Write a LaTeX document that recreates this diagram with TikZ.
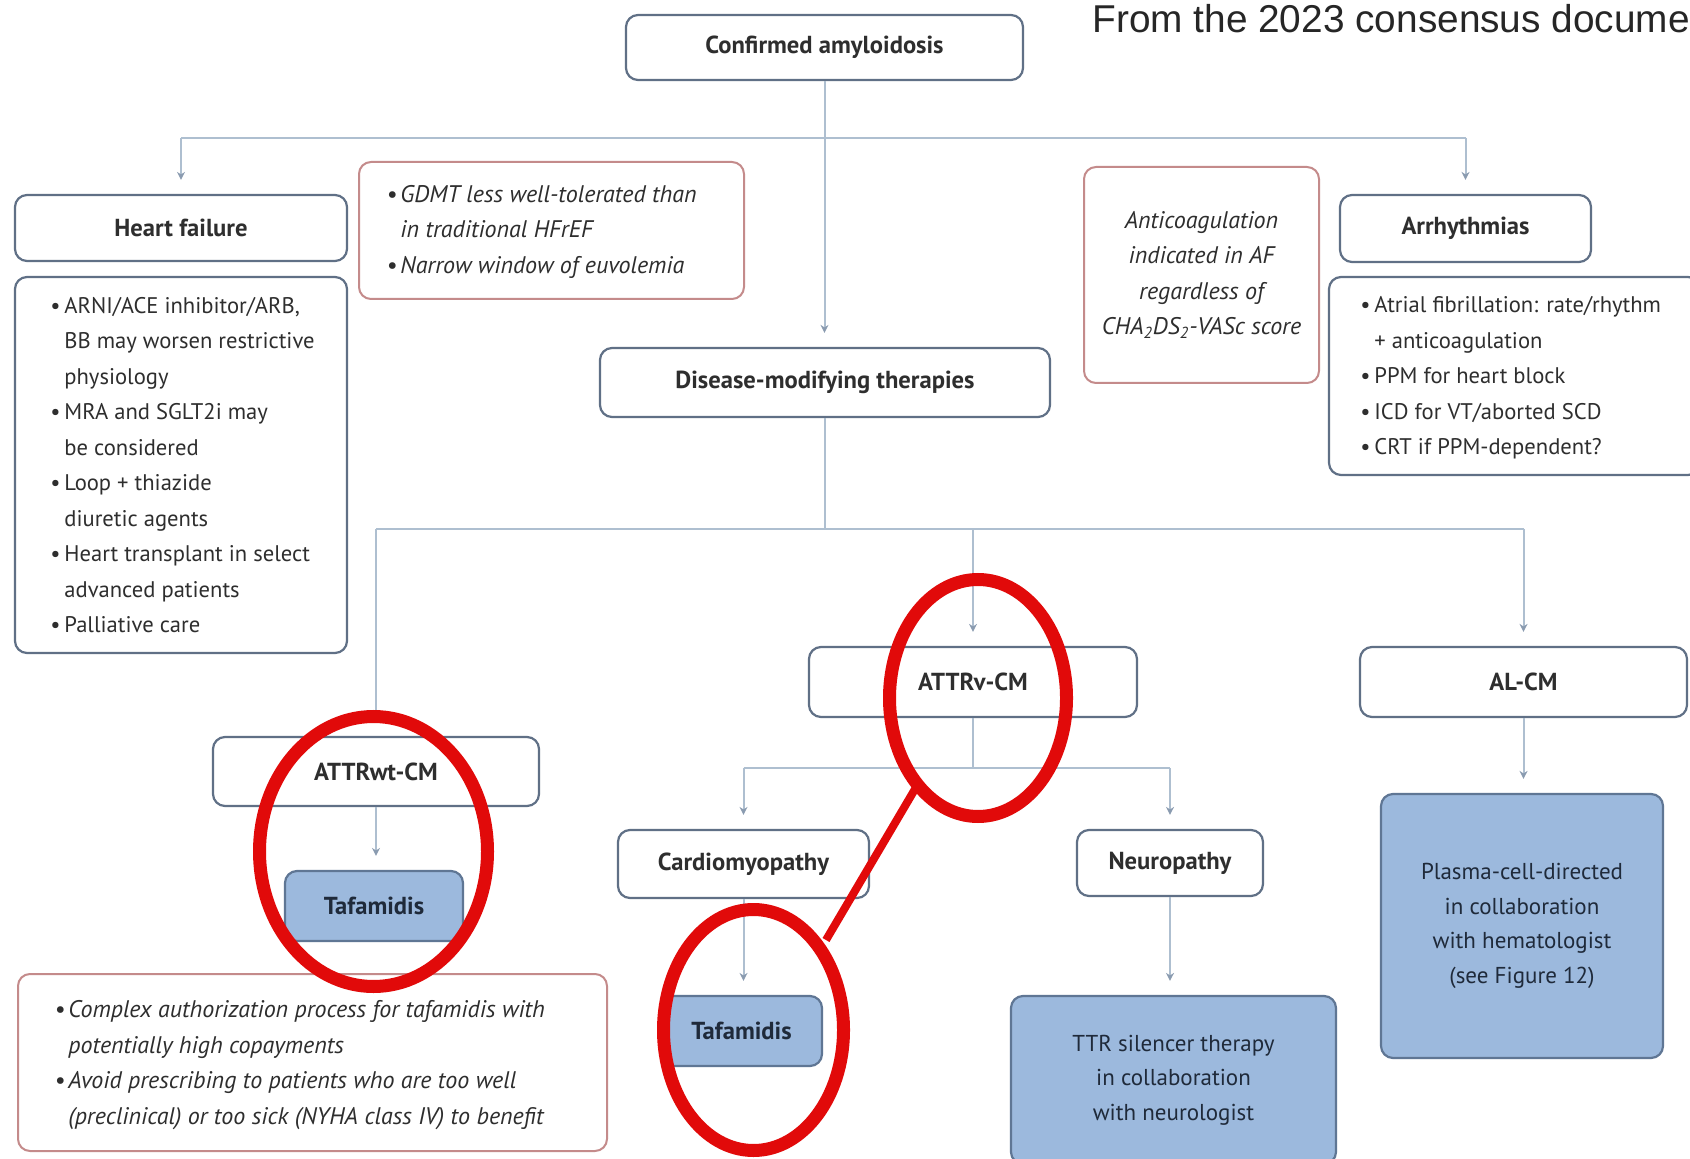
\documentclass[tikz,border=0pt]{standalone}
\usepackage{fontspec}
\setmainfont{PT Sans}
\newfontfamily\arialf{Liberation Sans}
\usetikzlibrary{arrows.meta}
\definecolor{boxc}{HTML}{607086}
\definecolor{linec}{HTML}{AEBFD0}
\definecolor{tipc}{HTML}{8A9BB0}
\definecolor{redb}{HTML}{C48B8B}
\definecolor{bluef}{HTML}{9CB9DD}
\definecolor{blueb}{HTML}{5F7694}
\definecolor{annred}{HTML}{E10A0A}
\definecolor{txt}{HTML}{2E2E2E}
\definecolor{navy}{HTML}{1F2A3A}
\newcommand\fs{\fontsize{11.3}{17.75}\selectfont}
\newcommand\fsc{\fontsize{11.5}{17.25}\selectfont}
\newcommand\fst{\fontsize{12.3}{17.75}\selectfont\bfseries}
\newcommand\fsi{\fontsize{12}{17.75}\selectfont\itshape}
\newcommand\bu{\makebox[7pt][l]{\textbullet}}
\newcommand\ind{\hspace*{7pt}}
\tikzset{
  box/.style={draw=boxc, line width=1.1pt, rounded corners=6pt, fill=white, inner sep=0pt, align=center, font=\fst, text=txt},
  plainbox/.style={draw=boxc, line width=1.1pt, rounded corners=6pt, fill=white, inner sep=0pt},
  redbox/.style={draw=redb, line width=1pt, rounded corners=6pt, fill=white, inner sep=0pt},
  bluebox/.style={draw=blueb, line width=1.1pt, rounded corners=6pt, fill=bluef, inner sep=0pt, align=center, font=\fst, text=navy},
  listtext/.style={anchor=west, align=left, inner sep=0pt, font=\fs, text=txt},
  conn/.style={draw=linec, line width=1pt},
  arrowline/.style={conn, -{Stealth[length=4pt,width=4pt,color=tipc]}, shorten >=7pt},
  redc/.style={draw=annred, line width=6.5pt},
}
\begin{document}
\begin{tikzpicture}[x=0.5pt,y=-0.5pt]
\useasboundingbox (0,0) rectangle (1690,1159);
\clip (0,0) rectangle (1690,1159);
\fill[white] (0,0) rectangle (1690,1159);

\node[anchor=base west, inner sep=0pt, font=\arialf\fontsize{19.4}{22}\selectfont, text=black!85] (src) at (1092,33) {From the 2023 consensus document};

% top level
\node[box, minimum width=198.5pt, minimum height=32.5pt] (conf) at (824.5,47.5) {Confirmed amyloidosis};
\node[box, minimum width=225pt, minimum height=34.5pt] (dmt) at (825,382.5) {Disease-modifying therapies};

% heart failure
\node[box, minimum width=166pt, minimum height=33pt] (hf) at (181,228) {Heart failure};
\node[plainbox, minimum width=166pt, minimum height=188pt] (hfbox) at (181,465) {};
\node[listtext] (hftext) at (50,465) {\bu ARNI/ACE inhibitor/ARB,\\ \ind BB may worsen restrictive\\ \ind physiology\\ \bu MRA and SGLT2i may\\ \ind be considered\\ \bu Loop + thiazide\\ \ind diuretic agents\\ \bu Heart transplant in select\\ \ind advanced patients\\ \bu Palliative care};

\node[redbox, minimum width=192.5pt, minimum height=68.5pt] (gdmtbox) at (551.5,230.5) {};
\node[listtext, font=\fsi] (gdmt) at (386,231.5) {\bu GDMT less well-tolerated than\\ \ind in traditional HFrEF\\ \bu Narrow window of euvolemia};

% arrhythmias
\node[redbox, minimum width=117.5pt, minimum height=108pt, align=center, font=\fsi, text=txt] (antic) at (1201.5,275) {Anticoagulation\\ indicated in AF\\ regardless of\\ CHA\textsubscript{2}DS\textsubscript{2}-VASc score};
\node[box, minimum width=125.5pt, minimum height=33.5pt] (arr) at (1465.5,228.5) {Arrhythmias};
\node[plainbox, minimum width=185.5pt, minimum height=99pt] (arrbox) at (1514.5,376) {};
\node[listtext] (arrtext) at (1360,378) {\bu Atrial fibrillation: rate/rhythm\\ \ind + anticoagulation\\ \bu PPM for heart block\\ \bu ICD for VT/aborted SCD\\ \bu CRT if PPM-dependent?};

% disease types
\node[box, minimum width=164pt, minimum height=35pt] (attrv) at (973,682) {ATTRv-CM};
\node[box, minimum width=163.5pt, minimum height=35pt] (alcm) at (1523.5,682) {AL-CM};
\node[box, minimum width=163pt, minimum height=34.5pt] (attrwt) at (376,771.5) {ATTRwt-CM};
\node[bluebox, minimum width=89pt, minimum height=35pt] (taf1) at (374,906) {Tafamidis};
\node[redbox, minimum width=294.5pt, minimum height=88.5pt] (warnbox) at (312.5,1062.5) {};
\node[listtext, font=\fsi] (warn) at (54,1065) {\bu Complex authorization process for tafamidis with\\ \ind potentially high copayments\\ \bu Avoid prescribing to patients who are too well\\ \ind (preclinical) or too sick (NYHA class IV) to benefit};
\node[box, minimum width=125.5pt, minimum height=34pt] (cardio) at (743.5,864) {Cardiomyopathy};
\node[box, minimum width=93pt, minimum height=33pt] (neuro) at (1170,863) {Neuropathy};
\node[bluebox, minimum width=80.5pt, minimum height=35pt] (taf2) at (741.5,1031) {Tafamidis};
\node[bluebox, font=\fsc, minimum width=162.5pt, minimum height=84pt] (ttr) at (1173.5,1080) {TTR silencer therapy\\ in collaboration\\ with neurologist};
\node[bluebox, font=\fsc, minimum width=141pt, minimum height=132pt] (plasma) at (1522,926) {Plasma-cell-directed\\ in collaboration\\ with hematologist\\ (see Figure 12)};

% connectors
\coordinate (hbar) at (824.5,138);
\draw[conn] (hf.north |- hbar) -- (arr.north |- hbar);
\draw[conn] (conf.south) -- (hbar);
\draw[arrowline] (hbar) -- (hbar |- dmt.north);
\draw[arrowline] (hf.north |- hbar) -- (hf.north);
\draw[arrowline] (arr.north |- hbar) -- (arr.north);

\coordinate (dbar) at (825,529);
\draw[conn] (dmt.south) -- (dbar);
\draw[conn] (attrwt.north |- dbar) -- (alcm.north |- dbar);
\draw[arrowline] (attrwt.north |- dbar) -- (attrwt.north);
\draw[arrowline] (attrv.north |- dbar) -- (attrv.north);
\draw[arrowline] (alcm.north |- dbar) -- (alcm.north);

\coordinate (vbar) at (973,768);
\draw[conn] (attrv.south) -- (vbar);
\draw[conn] (cardio.north |- vbar) -- (neuro.north |- vbar);
\draw[arrowline] (cardio.north |- vbar) -- (cardio.north);
\draw[arrowline] (neuro.north |- vbar) -- (neuro.north);
\draw[arrowline] (attrwt.south) -- (attrwt.south |- taf1.north);
\draw[arrowline] (cardio.south) -- (cardio.south |- taf2.north);
\draw[arrowline] (neuro.south) -- (neuro.south |- ttr.north);
\draw[arrowline] (alcm.south) -- (alcm.south |- plasma.north);

% red annotations
\draw[redc] (373.5,851.5) ellipse [x radius=57pt, y radius=67.5pt];
\draw[redc] (978,698) ellipse [x radius=44.25pt, y radius=59.25pt];
\draw[redc] (753.5,1030) ellipse [x radius=45pt, y radius=60.25pt];
\coordinate (rl1) at (826,940);
\coordinate (rl2) at (918,784);
\draw[annred, line width=4pt] (rl1) -- (rl2);
\end{tikzpicture}
\end{document}
